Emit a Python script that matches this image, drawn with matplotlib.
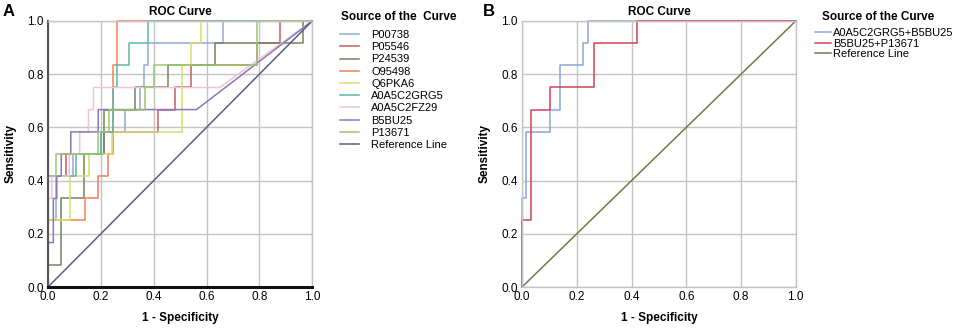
import matplotlib
matplotlib.use("Agg")
import matplotlib.pyplot as plt

plt.rcParams['font.family'] = ['Liberation Sans', 'DejaVu Sans']

# ---- panel A: single-protein ROC curves (fpr, tpr vertices) ----
names_a = ["P00738", "P05546", "P24539", "O95498", "Q6PKA6",
           "A0A5C2GRG5", "A0A5C2FZ29", "B5BU25", "P13671"]
colors_a = ["#92a8d8", "#c95c5c", "#6f8562", "#f47f52", "#dcdc6c",
            "#5cb8a6", "#f2c2da", "#8878b6", "#98c870"]

fpr_p00738 = [0, 0, 0.03, 0.03, 0.095, 0.095, 0.2, 0.2, 0.29, 0.29, 0.35, 0.35, 0.365, 0.365, 0.38, 0.38, 0.663, 0.663, 1]
tpr_p00738 = [0, 0.25, 0.25, 0.417, 0.417, 0.5, 0.5, 0.583, 0.583, 0.667, 0.667, 0.75, 0.75, 0.833, 0.833, 0.917, 0.917, 1, 1]

fpr_p05546 = [0, 0, 0.067, 0.067, 0.21, 0.21, 0.417, 0.417, 0.48, 0.48, 0.543, 0.543, 0.79, 0.79, 0.878, 0.878, 1]
tpr_p05546 = [0, 0.417, 0.417, 0.5, 0.5, 0.583, 0.583, 0.667, 0.667, 0.75, 0.75, 0.833, 0.833, 0.917, 0.917, 1, 1]

fpr_p24539 = [0, 0, 0.049, 0.049, 0.137, 0.137, 0.21, 0.21, 0.33, 0.33, 0.455, 0.455, 0.632, 0.632, 0.966, 0.966, 1]
tpr_p24539 = [0, 0.083, 0.083, 0.333, 0.333, 0.5, 0.5, 0.667, 0.667, 0.75, 0.75, 0.833, 0.833, 0.917, 0.917, 1, 1]

fpr_o95498 = [0, 0, 0.14, 0.14, 0.19, 0.19, 0.228, 0.228, 0.245, 0.245, 0.26, 0.26, 1]
tpr_o95498 = [0, 0.25, 0.25, 0.333, 0.333, 0.417, 0.417, 0.5, 0.5, 0.833, 0.833, 1, 1]

fpr_q6pka6 = [0, 0, 0.083, 0.083, 0.156, 0.156, 0.243, 0.243, 0.508, 0.508, 0.543, 0.543, 0.578, 0.578, 1]
tpr_q6pka6 = [0, 0.25, 0.25, 0.417, 0.417, 0.5, 0.5, 0.583, 0.583, 0.833, 0.833, 0.917, 0.917, 1, 1]

fpr_grg5 = [0, 0, 0.105, 0.105, 0.2, 0.2, 0.245, 0.245, 0.26, 0.26, 0.305, 0.305, 0.38, 0.38, 1]
tpr_grg5 = [0, 0.417, 0.417, 0.5, 0.5, 0.583, 0.583, 0.75, 0.75, 0.833, 0.833, 0.917, 0.917, 1, 1]

fpr_fz29 = [0, 0, 0.014, 0.014, 0.08, 0.08, 0.12, 0.12, 0.153, 0.153, 0.172, 0.172, 0.65, 1]
tpr_fz29 = [0, 0.333, 0.333, 0.417, 0.417, 0.5, 0.5, 0.583, 0.583, 0.667, 0.667, 0.75, 0.75, 1]

fpr_b5bu25 = [0, 0, 0.02, 0.02, 0.033, 0.033, 0.05, 0.05, 0.086, 0.086, 0.19, 0.19, 0.562, 1]
tpr_b5bu25 = [0, 0.167, 0.167, 0.333, 0.333, 0.417, 0.417, 0.5, 0.5, 0.583, 0.583, 0.667, 0.667, 1]

fpr_p13671 = [0, 0, 0.03, 0.03, 0.19, 0.19, 0.23, 0.23, 0.367, 0.367, 0.40, 0.40, 0.79, 0.79, 1]
tpr_p13671 = [0, 0.417, 0.417, 0.5, 0.5, 0.583, 0.583, 0.667, 0.667, 0.75, 0.75, 0.833, 0.833, 1, 1]

curves_a = [(fpr_p00738, tpr_p00738), (fpr_p05546, tpr_p05546), (fpr_p24539, tpr_p24539),
            (fpr_o95498, tpr_o95498), (fpr_q6pka6, tpr_q6pka6), (fpr_grg5, tpr_grg5),
            (fpr_fz29, tpr_fz29), (fpr_b5bu25, tpr_b5bu25), (fpr_p13671, tpr_p13671)]

# ---- panel B: combined markers ----
names_b = ["A0A5C2GRG5+B5BU25", "B5BU25+P13671"]
colors_b = ["#8ea4d8", "#d2425a"]
fpr_combo1 = [0, 0, 0.014, 0.014, 0.103, 0.103, 0.138, 0.138, 0.224, 0.224, 0.241, 0.241, 1]
tpr_combo1 = [0, 0.333, 0.333, 0.583, 0.583, 0.667, 0.667, 0.833, 0.833, 0.917, 0.917, 1, 1]
fpr_combo2 = [0, 0, 0.033, 0.033, 0.103, 0.103, 0.263, 0.263, 0.42, 0.42, 1]
tpr_combo2 = [0, 0.25, 0.25, 0.667, 0.667, 0.75, 0.75, 0.917, 0.917, 1, 1]
curves_b = [(fpr_combo1, tpr_combo1), (fpr_combo2, tpr_combo2)]

ticks = [0.0, 0.2, 0.4, 0.6, 0.8, 1.0]


def style_axes(ax, dark_frame):
    ax.set_xlim(0, 1)
    ax.set_ylim(0, 1)
    ax.set_xticks(ticks)
    ax.set_yticks(ticks)
    ax.set_xticklabels(["%.1f" % t for t in ticks])
    ax.set_yticklabels(["%.1f" % t for t in ticks])
    ax.tick_params(length=0, labelsize=8.5, pad=3)
    ax.grid(True, color="#c4c4c4", lw=1)
    ax.set_axisbelow(True)
    for s in ax.spines.values():
        s.set_color("#c4c4c4")
        s.set_linewidth(1)
    if dark_frame:
        ax.spines["left"].set_color("#555555")
        ax.spines["left"].set_linewidth(1.5)
        ax.spines["bottom"].set_color("#111111")
        ax.spines["bottom"].set_linewidth(2.2)
    ax.set_title("ROC Curve", fontsize=8.5, fontweight="bold", pad=4)
    ax.set_xlabel("1 - Specificity", fontsize=8.5, fontweight="bold", labelpad=6)
    ax.set_ylabel("Sensitivity", fontsize=8.5, fontweight="bold", labelpad=8)


fig = plt.figure(figsize=(9.57, 3.28), dpi=100)
ax_a = fig.add_axes([0.0502, 0.125, 0.276, 0.811])
ax_b = fig.add_axes([0.5455, 0.125, 0.286, 0.811])

for (fx, ty), name, c in zip(curves_a, names_a, colors_a):
    ax_a.plot(fx, ty, color=c, lw=1.1, label=name, clip_on=False)
ax_a.plot([0, 1], [0, 1], color="#5c5c86", lw=1.1, label="Reference Line", clip_on=False)
style_axes(ax_a, True)

for (fx, ty), name, c in zip(curves_b, names_b, colors_b):
    ax_b.plot(fx, ty, color=c, lw=1.1, label=name, clip_on=False)
ax_b.plot([0, 1], [0, 1], color="#6e7a4c", lw=1.1, label="Reference Line", clip_on=False)
style_axes(ax_b, False)

# legends: titles drawn separately so the gap to the entries matches
fig.text(341 / 957, 1 - 17 / 328, "Source of the  Curve", fontsize=8.5,
         fontweight="bold", va="center", ha="left")
ax_a.legend(loc="upper left", bbox_to_anchor=(340 / 957, 1 - 30 / 328),
            bbox_transform=fig.transFigure, frameon=False,
            fontsize=8, handlelength=1.7, handletextpad=1.1,
            labelspacing=0.2, borderaxespad=0, borderpad=0)

fig.text(822 / 957, 1 - 17 / 328, "Source of the Curve", fontsize=8.5,
         fontweight="bold", va="center", ha="left")
ax_b.legend(loc="upper left", bbox_to_anchor=(815 / 957, 1 - 28 / 328),
            bbox_transform=fig.transFigure, frameon=False,
            fontsize=8, handlelength=1.4, handletextpad=0.2,
            labelspacing=0.05, borderaxespad=0, borderpad=0)

fig.text(3 / 957, 1 - 12 / 328, "A", fontsize=12, fontweight="bold", va="center")
fig.text(483 / 957, 1 - 12 / 328, "B", fontsize=12, fontweight="bold", va="center")

fig.savefig("out.png", dpi=100)
